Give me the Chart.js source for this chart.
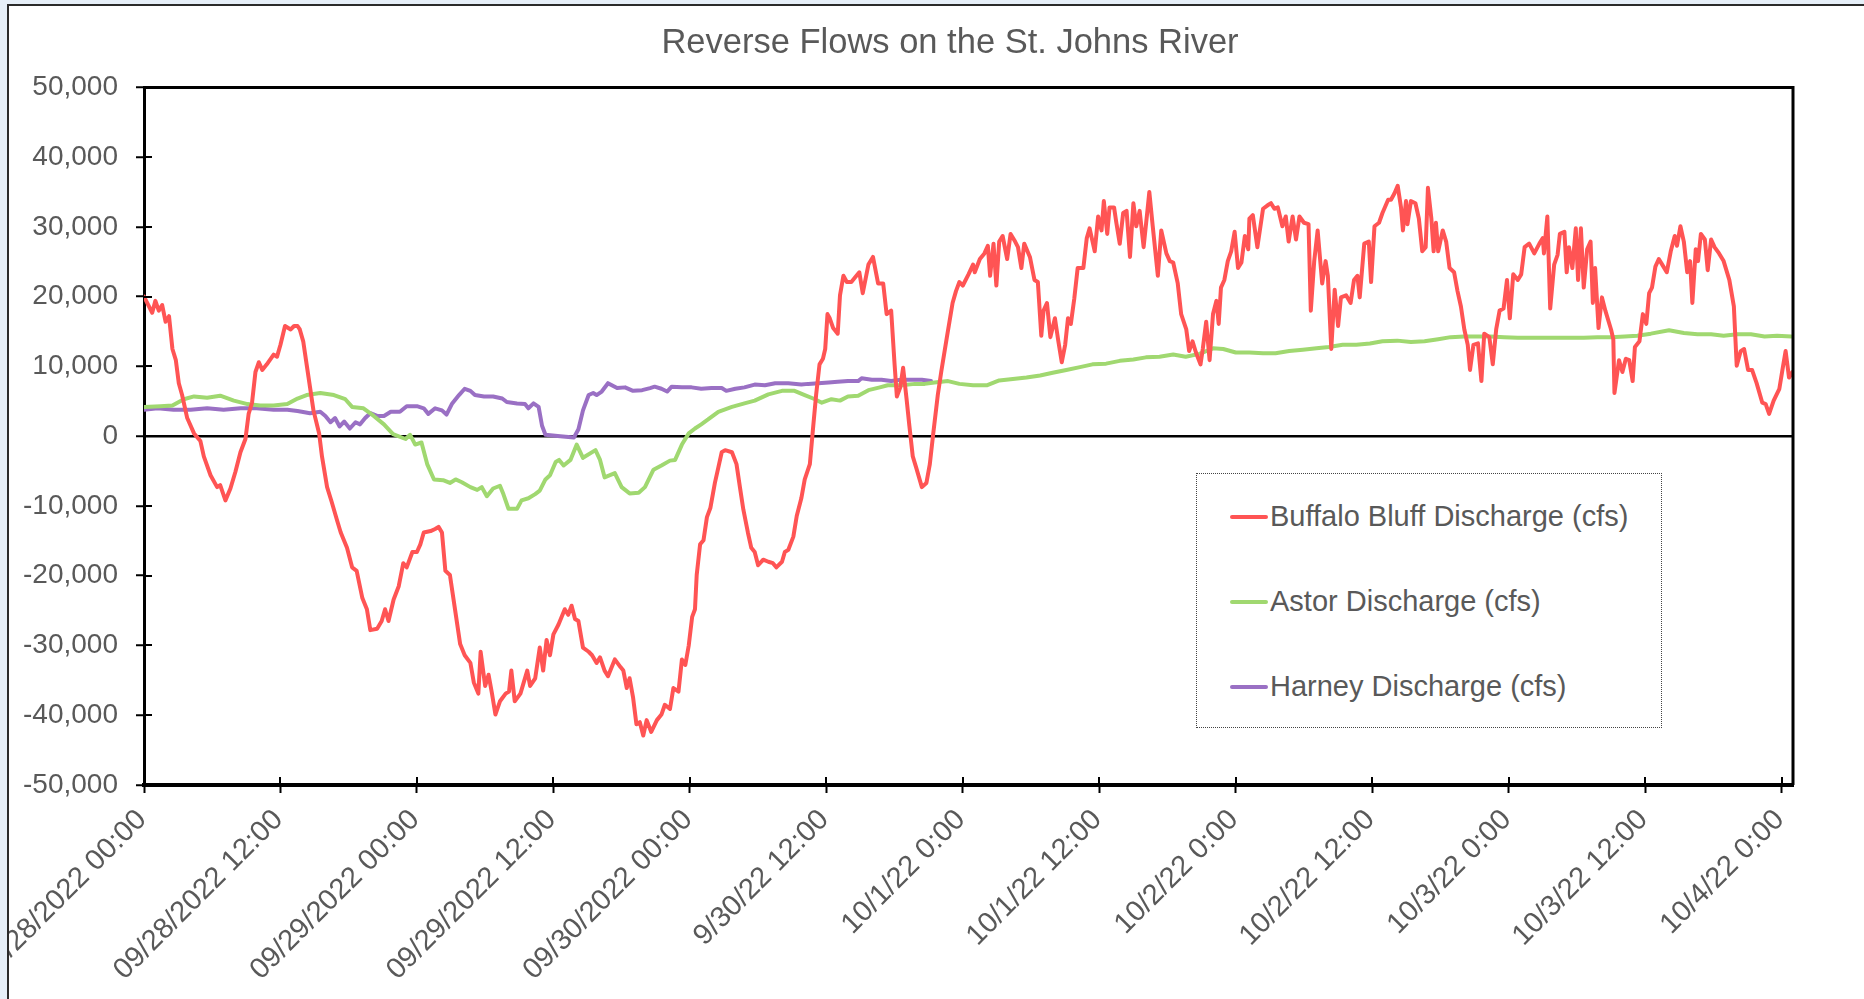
<!DOCTYPE html>
<html>
<head>
<meta charset="utf-8">
<title>Reverse Flows on the St. Johns River</title>
<script src="https://cdn.jsdelivr.net/npm/chart.js@4.4.0/dist/chart.umd.min.js"></script>
<style>
  html, body { margin: 0; padding: 0; }
  body {
    width: 1864px; height: 999px; overflow: hidden; position: relative;
    background: #e6eff8;
    font-family: "Liberation Sans", Arial, sans-serif;
  }
  #frame {
    position: absolute; left: 7px; top: 4px; width: 1857px; height: 995px;
    border-top: 2px solid #2b2b2b; border-left: 2px solid #2b2b2b;
    background: #fff; overflow: hidden;
  }
  #chart { position: absolute; left: 0; top: 0; }
  #legend {
    position: absolute; left: 1196px; top: 473px; width: 464px; height: 253px;
    border: 1px dotted #444; background: #fff;
  }
  .legend-row {
    height: 85px; display: flex; align-items: center;
    font-size: 29px; color: #595959; white-space: nowrap;
  }
  .legend-row span.swatch {
    display: inline-block; width: 38px; height: 4px; margin-left: 33px; margin-right: 2px;
    border-radius: 2px;
  }
</style>
</head>
<body>
<div id="frame"><canvas id="chart" width="1855" height="993"></canvas></div>
<div id="legend"></div>
<script>
// hours since 09/28/2022 00:00, discharge in cfs
const buffaloBluff = [
  [0, 20000], [0.72, 17700], [1.0, 19400], [1.3, 18000], [1.6, 18800], [1.9, 16400], [2.2, 17200],
  [2.5, 12500], [2.8, 10900], [3.06, 7600], [3.35, 5900], [3.8, 2600], [4.4, 400], [4.96, -700],
  [5.26, -2900], [5.85, -5600], [6.43, -7300], [6.7, -7000], [7.16, -9200], [7.6, -7500], [8.04, -5100],
  [8.48, -2300], [8.92, -400], [9.2, 3200], [9.5, 4800], [9.8, 9200], [10.1, 10600], [10.4, 9500],
  [10.8, 10300], [11.4, 11700], [11.7, 11400], [12.0, 13100], [12.4, 15800], [12.9, 15300], [13.2, 15800],
  [13.5, 15800], [13.7, 15300], [14.0, 13600], [14.3, 10300], [14.6, 7000], [14.9, 3700], [15.4, 400],
  [15.65, -2900], [16.1, -7300], [16.5, -9400], [17.0, -12200], [17.3, -13800], [17.85, -16000],
  [18.3, -18800], [18.7, -19300], [19.2, -23200], [19.6, -24800], [19.9, -27800], [20.5, -27600],
  [20.9, -26500], [21.2, -24800], [21.5, -26500], [21.95, -23400], [22.4, -21500], [22.8, -18200],
  [23.1, -18800], [23.6, -16600], [24.0, -16600], [24.3, -15500], [24.6, -13800], [25.2, -13600],
  [25.6, -13300], [25.9, -13000], [26.2, -13800], [26.5, -19300], [26.9, -19900], [27.4, -25400],
  [27.8, -29800], [28.2, -31400], [28.7, -32500], [29.0, -35300], [29.4, -36900], [29.6, -30900],
  [30.0, -35800], [30.3, -34200], [30.6, -36900], [30.9, -39900], [31.3, -38000], [31.8, -36900],
  [32.1, -36600], [32.3, -33600], [32.6, -38000], [33.1, -36900], [33.7, -33600], [33.95, -35800],
  [34.4, -34700], [34.8, -30300], [35.1, -33600], [35.4, -29200], [35.7, -31400], [36.0, -28400],
  [36.45, -27000], [37.0, -24800], [37.3, -25600], [37.6, -24300], [37.9, -26200], [38.2, -26500],
  [38.6, -30300], [39.1, -30900], [39.4, -31400], [39.8, -32500], [40.1, -31700], [40.5, -33600],
  [40.8, -34400], [41.4, -32000], [41.9, -33100], [42.15, -33600], [42.45, -36100], [42.7, -34700],
  [43.0, -37400], [43.3, -41300], [43.6, -41000], [43.9, -42900], [44.2, -40700], [44.6, -42400],
  [45.1, -40700], [45.5, -39900], [45.8, -38500], [46.25, -39100], [46.55, -36100], [47.0, -36600],
  [47.3, -32000], [47.6, -32800], [47.9, -30000], [48.2, -25900], [48.45, -24800], [48.6, -19900],
  [48.9, -15500], [49.2, -14900], [49.5, -11600], [49.8, -10300], [50.2, -6700], [50.5, -4500],
  [50.8, -2300], [51.1, -2000], [51.7, -2300], [52.1, -4000], [52.4, -7300], [52.7, -10500],
  [53.1, -13800], [53.4, -16000], [53.7, -16600], [54.0, -18500], [54.45, -17700], [54.9, -18000],
  [55.3, -18200], [55.6, -18800], [56.1, -18000], [56.35, -16600], [56.65, -16300], [57.1, -14400],
  [57.4, -11400], [57.8, -8900], [58.1, -6200], [58.55, -4000], [58.85, 1500], [59.1, 5900],
  [59.4, 10300], [59.7, 11100], [59.9, 12500], [60.1, 17500], [60.3, 16900], [60.6, 15500],
  [61.0, 14700], [61.2, 20200], [61.5, 23000], [61.8, 22100], [62.2, 22100], [62.5, 22700],
  [62.9, 23500], [63.2, 20500], [63.7, 24600], [64.1, 25700], [64.55, 21900], [65.0, 21900],
  [65.3, 17500], [65.7, 18000], [66.0, 10300], [66.2, 5700], [66.5, 7000], [66.75, 9800],
  [67.05, 5400], [67.3, 1500], [67.6, -2900], [67.9, -4500], [68.4, -7300], [68.8, -6700],
  [69.1, -4000], [69.4, 400], [69.8, 5900], [70.1, 9200], [70.6, 14200], [71.1, 19100],
  [71.4, 20800], [71.7, 22100], [72.0, 21600], [72.5, 23200], [72.9, 24600], [73.05, 23500],
  [73.5, 25400], [73.9, 26200], [74.2, 27300], [74.4, 23000], [74.7, 27600], [74.95, 21600],
  [75.2, 27900], [75.5, 28700], [75.9, 25400], [76.2, 29000], [76.6, 27900], [76.85, 27100],
  [77.15, 24100], [77.4, 27600], [77.9, 25700], [78.3, 22400], [78.6, 22100], [78.9, 14400],
  [79.1, 18000], [79.4, 19100], [79.7, 14200], [80.1, 16900], [80.4, 13600], [80.7, 10600],
  [81.0, 13100], [81.25, 16900], [81.5, 16100], [81.8, 19700], [82.1, 24100], [82.6, 24100],
  [82.9, 28400], [83.15, 29800], [83.6, 26500], [83.9, 31500], [84.2, 29500], [84.4, 33700],
  [84.7, 29000], [84.9, 32800], [85.3, 32800], [85.5, 30600], [85.8, 27600], [86.1, 32000],
  [86.4, 32300], [86.7, 25700], [87.0, 33400], [87.25, 30100], [87.55, 32300], [87.9, 27100],
  [88.3, 33400], [88.4, 35000], [88.7, 30100], [89.15, 23000], [89.45, 29500], [89.9, 26200],
  [90.2, 25100], [90.5, 24900], [90.9, 21900], [91.2, 17500], [91.65, 15300], [91.9, 12200],
  [92.2, 13600], [92.5, 12000], [92.9, 10300], [93.1, 12500], [93.4, 16400], [93.7, 10900],
  [94.0, 17500], [94.3, 19400], [94.5, 16100], [94.7, 21300], [95.0, 22400], [95.3, 25100],
  [95.6, 26500], [95.9, 29300], [96.2, 24100], [96.5, 24900], [96.8, 28700], [97.1, 26800],
  [97.2, 31200], [97.5, 31700], [97.9, 27100], [98.4, 32600], [98.8, 33100], [99.1, 33400],
  [99.4, 32600], [99.7, 32800], [100.1, 30100], [100.4, 31500], [100.65, 27900], [101.0, 31500],
  [101.3, 28200], [101.6, 31500], [102.0, 30600], [102.4, 30400], [102.6, 18000], [102.9, 25100],
  [103.2, 29500], [103.6, 21900], [103.9, 25100], [104.1, 23000], [104.4, 12500], [104.7, 21000],
  [105.0, 15800], [105.25, 19900], [105.7, 20200], [106.1, 19100], [106.4, 22400], [106.7, 23000],
  [106.9, 19900], [107.3, 27600], [107.7, 27900], [107.9, 22100], [108.2, 30100], [108.6, 30600],
  [108.9, 32000], [109.4, 33900], [109.65, 33900], [109.95, 34800], [110.24, 35900], [110.53, 32800],
  [110.7, 29500], [110.97, 33700], [111.1, 30400], [111.4, 33700], [111.8, 33400], [112.1, 31200],
  [112.4, 26500], [112.7, 27100], [112.9, 35600], [113.2, 31200], [113.4, 26500], [113.6, 30600],
  [113.8, 26500], [114.2, 29500], [114.5, 27900], [114.8, 24100], [115.2, 23500], [115.5, 20800],
  [115.8, 18600], [116.1, 15300], [116.4, 13100], [116.6, 9500], [116.9, 13100], [117.3, 13300],
  [117.6, 7900], [117.85, 14700], [118.3, 14200], [118.6, 10300], [118.9, 15300], [119.2, 18000],
  [119.55, 18300], [119.85, 22400], [120.1, 16900], [120.4, 23200], [120.8, 22400], [121.1, 23200],
  [121.4, 27100], [121.8, 27600], [122.25, 26200], [122.7, 27600], [123.0, 28400], [123.1, 26200],
  [123.4, 31500], [123.65, 18300], [124.0, 24600], [124.3, 26000], [124.5, 29000], [124.9, 29300],
  [125.1, 23500], [125.3, 27100], [125.6, 24100], [125.9, 29800], [126.1, 22400], [126.35, 29800],
  [126.6, 21300], [126.9, 26800], [127.2, 27900], [127.4, 19100], [127.6, 24100], [127.9, 15500],
  [128.2, 19900], [128.5, 18000], [129.0, 15300], [129.2, 13900], [129.3, 6200], [129.7, 10900],
  [130.0, 9200], [130.3, 11100], [130.6, 10900], [130.9, 7900], [131.1, 12800], [131.5, 13600],
  [131.8, 17500], [132.1, 16100], [132.35, 20500], [132.6, 21300], [132.9, 24300], [133.2, 25400],
  [133.5, 24600], [133.9, 23500], [134.25, 26500], [134.6, 28700], [134.8, 27300], [135.1, 30100],
  [135.4, 27900], [135.7, 23500], [135.95, 25100], [136.15, 19100], [136.45, 26800], [136.65, 25100],
  [136.9, 29000], [137.25, 28200], [137.5, 23800], [137.8, 28200], [138.1, 27100], [138.5, 26200],
  [138.9, 25100], [139.4, 22400], [139.8, 18600], [140.05, 10100], [140.4, 12200], [140.7, 12500],
  [141.05, 9500], [141.4, 9500], [141.8, 7600], [142.3, 4800], [142.6, 4600], [142.9, 3200],
  [143.3, 5100], [143.8, 6800], [144.1, 9800], [144.35, 12200], [144.65, 8400], [144.95, 9200]
];

const astor = [
  [0, 4200], [1.45, 4300], [2.5, 4400], [3.5, 5300], [4.4, 5700], [5.55, 5500], [6.7, 5800],
  [7.9, 5100], [9.1, 4600], [10.2, 4400], [11.4, 4400], [12.6, 4600], [13.5, 5400], [14.3, 5900],
  [15.5, 6200], [16.7, 5900], [17.7, 5300], [18.3, 4200], [19.3, 4000], [20.2, 2900], [21.1, 1700],
  [21.9, 300], [23.0, -400], [23.4, 200], [23.85, -1200], [24.4, -900], [24.9, -4000], [25.5, -6200],
  [26.3, -6300], [26.9, -6700], [27.4, -6200], [27.95, -6600], [28.7, -7300], [29.3, -7700],
  [29.7, -7300], [30.15, -8600], [30.7, -7500], [31.3, -7100], [31.6, -8300], [32.05, -10400],
  [32.8, -10400], [33.2, -9200], [33.8, -8900], [34.4, -8300], [34.8, -7800], [35.3, -6200],
  [35.7, -5600], [36.2, -3700], [36.5, -3400], [36.9, -4200], [37.5, -3400], [38.05, -1200],
  [38.6, -3100], [39.7, -2000], [40.1, -3400], [40.5, -5900], [41.4, -5300], [42.0, -7300],
  [42.7, -8200], [43.5, -8100], [44.05, -7300], [44.8, -4800], [45.5, -4200], [46.25, -3500],
  [46.7, -3400], [47.3, -1200], [47.9, 400], [48.45, 1100], [49.0, 1700], [49.6, 2400], [50.5, 3500],
  [51.7, 4200], [52.8, 4700], [53.7, 5100], [54.9, 6000], [56.1, 6500], [57.2, 6500], [58.1, 5900],
  [59.0, 5300], [59.6, 4800], [60.45, 5300], [61.2, 5100], [61.9, 5700], [62.8, 5800], [63.7, 6600],
  [64.7, 7000], [65.4, 7300], [66.6, 7300], [67.8, 7500], [68.65, 7500], [69.5, 7700], [70.7, 7900],
  [71.7, 7500], [72.9, 7300], [74.1, 7300], [75.2, 8000], [76.4, 8200], [77.6, 8400], [78.8, 8700],
  [79.9, 9100], [81.1, 9500], [82.3, 9900], [83.4, 10300], [84.6, 10400], [85.8, 10800], [87.0, 11000],
  [88.1, 11300], [89.3, 11400], [90.5, 11700], [91.6, 11400], [92.8, 11800], [94.0, 12600],
  [94.9, 12500], [96.0, 12000], [97.2, 12000], [98.4, 11900], [99.5, 11900], [100.7, 12200],
  [101.9, 12400], [103.1, 12600], [104.2, 12800], [105.4, 13100], [106.6, 13100], [107.8, 13300],
  [108.9, 13600], [110.2, 13700], [111.4, 13500], [112.6, 13600], [113.8, 13900], [114.9, 14200],
  [116.1, 14300], [117.3, 14300], [118.4, 14300], [119.6, 14200], [120.8, 14100], [122.0, 14100],
  [123.1, 14100], [124.3, 14100], [125.5, 14100], [126.6, 14100], [127.8, 14200], [129.0, 14200],
  [130.2, 14300], [131.3, 14400], [132.5, 14700], [134.1, 15200], [135.4, 14800], [136.6, 14600],
  [137.8, 14600], [138.9, 14400], [140.1, 14600], [141.3, 14600], [142.5, 14300], [143.6, 14400],
  [144.85, 14300]
];

const harney = [
  [0, 3800], [1.2, 4000], [2.6, 3800], [4.1, 3800], [5.55, 4000], [7.0, 3800], [8.5, 4000],
  [9.9, 4000], [11.4, 3800], [12.6, 3800], [13.5, 3600], [14.6, 3300], [15.5, 3500], [15.95, 2900],
  [16.4, 2000], [16.8, 2600], [17.2, 1400], [17.6, 2100], [18.1, 1100], [18.6, 2000], [19.0, 1700],
  [19.45, 2600], [19.9, 3300], [20.5, 2900], [21.1, 2900], [21.7, 3500], [22.5, 3500], [23.1, 4300],
  [24.0, 4300], [24.6, 4000], [25.0, 3200], [25.6, 4000], [26.2, 3700], [26.6, 3100], [27.1, 4700],
  [27.7, 5900], [28.2, 6800], [28.7, 6500], [29.1, 5900], [29.9, 5700], [30.7, 5700], [31.5, 5400],
  [31.9, 4900], [32.8, 4700], [33.5, 4600], [33.8, 4000], [34.25, 4700], [34.7, 4200], [35.0, 1500],
  [35.3, 200], [36.6, 0], [37.8, -200], [38.2, 1000], [38.6, 3700], [39.1, 5900], [39.5, 6200],
  [39.8, 5900], [40.25, 6400], [40.8, 7600], [41.6, 6900], [42.3, 7000], [43.0, 6500], [43.8, 6600],
  [44.5, 6900], [44.9, 7100], [45.5, 6800], [46.0, 6400], [46.4, 7100], [47.3, 7000], [48.15, 7000],
  [49.0, 6800], [49.9, 6900], [50.8, 6900], [51.2, 6500], [52.0, 6800], [52.8, 7000], [53.7, 7400],
  [54.6, 7300], [55.5, 7600], [56.65, 7600], [57.8, 7400], [58.4, 7500], [59.3, 7600], [60.2, 7700],
  [61.0, 7800], [61.9, 7900], [62.8, 7900], [63.1, 8300], [64.0, 8100], [64.85, 8100], [65.7, 7900],
  [66.6, 8100], [67.5, 8100], [68.4, 8100], [69.2, 7900]
];

const seriesNames = ['Buffalo Bluff Discharge (cfs)', 'Astor Discharge (cfs)', 'Harney Discharge (cfs)'];
const seriesColors = ['#ff5454', '#a0d870', '#9a70c4'];

const xTickHours = [0, 12, 24, 36, 48, 60, 72, 84, 96, 108, 120, 132, 144];
const xTickLabels = [
  '09/28/2022 00:00', '09/28/2022 12:00', '09/29/2022 00:00', '09/29/2022 12:00',
  '09/30/2022 00:00', '9/30/22 12:00', '10/1/22 0:00', '10/1/22 12:00', '10/2/22 0:00',
  '10/2/22 12:00', '10/3/22 0:00', '10/3/22 12:00', '10/4/22 0:00'
];
const yTickValues = [-50000, -40000, -30000, -20000, -10000, 0, 10000, 20000, 30000, 40000, 50000];

const FONT = '"Liberation Sans", Arial, sans-serif';
const GREY = '#595959';

// top/right frame of the plot and the inner half of each tick mark
const plotFrame = {
  id: 'plotFrame',
  afterLayout(chart) {
    // let the y labels draw left of the (narrow) y scale box without being clipped
    chart.scales.y.left = 0;
  },
  afterDatasetsDraw(chart) {
    const {ctx, chartArea: a, scales} = chart;
    ctx.save();
    ctx.strokeStyle = '#000';
    ctx.lineWidth = 3;
    ctx.beginPath();
    ctx.moveTo(a.left, a.top);
    ctx.lineTo(a.right, a.top);
    ctx.lineTo(a.right, a.bottom);
    ctx.stroke();
    ctx.lineWidth = 2;
    ctx.beginPath();
    scales.y.ticks.forEach(t => {
      const py = Math.round(scales.y.getPixelForValue(t.value));
      ctx.moveTo(a.left, py);
      ctx.lineTo(a.left + 8, py);
    });
    scales.x.ticks.forEach(t => {
      const px = Math.round(scales.x.getPixelForValue(t.value));
      ctx.moveTo(px, a.bottom);
      ctx.lineTo(px, a.bottom - 8);
    });
    ctx.stroke();
    ctx.restore();
  }
};

const toPoints = arr => arr.map(([x, y]) => ({x, y}));

const chart = new Chart(document.getElementById('chart'), {
  type: 'line',
  data: {
    datasets: [buffaloBluff, astor, harney].map((arr, i) => ({
      label: seriesNames[i],
      data: toPoints(arr),
      borderColor: seriesColors[i],
      backgroundColor: seriesColors[i],
      borderWidth: 4,
      pointRadius: 0,
      tension: 0,
      borderJoinStyle: 'round',
      borderCapStyle: 'round'
    }))
  },
  options: {
    responsive: false,
    animation: false,
    layout: { padding: { left: 98, right: 71, top: 0, bottom: 0 } },
    plugins: {
      legend: { display: false },
      tooltip: { enabled: false },
      title: {
        display: true,
        text: 'Reverse Flows on the St. Johns River',
        color: GREY,
        font: { family: FONT, size: 34.5, weight: 'normal' },
        padding: { top: 17, bottom: 23 }
      }
    },
    scales: {
      x: {
        type: 'linear',
        min: 0,
        max: 145,
        afterBuildTicks: s => { s.ticks = xTickHours.map(v => ({value: v})); },
        afterFit: s => { s.height = 214; s.paddingLeft = 0; s.paddingRight = 0; },
        border: { display: true, color: '#000', width: 4 },
        grid: { display: true, drawOnChartArea: false, drawTicks: true, tickLength: 8, tickColor: '#000', tickWidth: 2 },
        ticks: {
          autoSkip: false,
          maxRotation: 45,
          minRotation: 45,
          padding: 10,
          labelOffset: -2,
          color: GREY,
          font: { family: FONT, size: 29 },
          callback: (v, i) => xTickLabels[i]
        }
      },
      y: {
        min: -50000,
        max: 50000,
        afterBuildTicks: s => { s.ticks = yTickValues.map(v => ({value: v})); },
        afterFit: s => { s.width = 37; s.paddingTop = 0; s.paddingBottom = 0; },
        border: { display: true, color: '#000', width: 3 },
        grid: {
          drawOnChartArea: true,
          color: c => (c.tick && c.tick.value === 0 ? '#000' : 'rgba(0,0,0,0)'),
          lineWidth: 2.5,
          drawTicks: true,
          tickLength: 8,
          tickColor: '#000',
          tickWidth: 2
        },
        ticks: {
          padding: 18,
          color: GREY,
          font: { family: FONT, size: 28 },
          callback: v => v.toLocaleString('en-US')
        }
      }
    }
  },
  plugins: [plotFrame]
});

// legend box inside the plot, built from the datasets
const legendBox = document.getElementById('legend');
chart.data.datasets.forEach(ds => {
  const row = document.createElement('div');
  row.className = 'legend-row';
  const swatch = document.createElement('span');
  swatch.className = 'swatch';
  swatch.style.background = ds.borderColor;
  row.appendChild(swatch);
  row.appendChild(document.createTextNode(ds.label));
  legendBox.appendChild(row);
});
</script>
</body>
</html>
